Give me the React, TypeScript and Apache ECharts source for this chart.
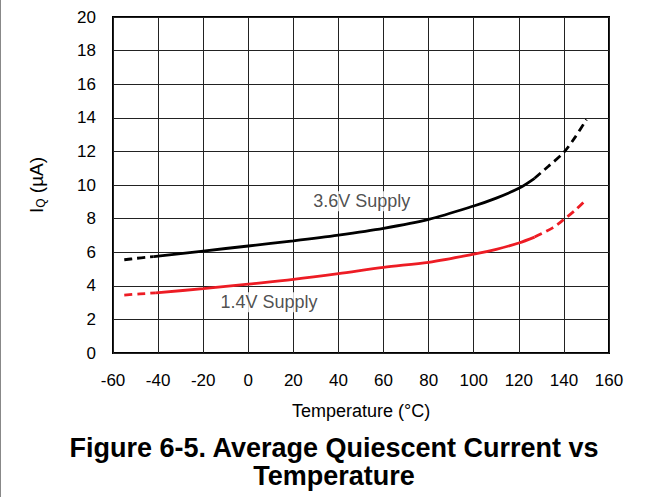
import React, { useEffect, useRef } from "react";
import * as echarts from "echarts";

const xTicks = [-60, -40, -20, 0, 20, 40, 60, 80, 100, 120, 140, 160];
const yTicks = [0, 2, 4, 6, 8, 10, 12, 14, 16, 18, 20];

// 3.6V supply curve (temperature °C, IQ µA)
const v36DashedLow: number[][] = [[-55, 5.55], [-50, 5.63], [-45, 5.7], [-42, 5.74]];
const v36Solid: number[][] = [[-42, 5.74], [-40, 5.77], [-20, 6.07], [0, 6.37], [20, 6.68], [40, 7.02], [60, 7.42], [80, 7.95], [100, 8.75], [110, 9.22], [120, 9.8], [127, 10.4]];
const v36DashedHigh: number[][] = [[127, 10.4], [133, 11.1], [140, 11.95], [145, 12.85], [150, 13.9]];

// 1.4V supply curve
const v14DashedLow: number[][] = [[-55, 3.45], [-48, 3.52], [-41, 3.58]];
const v14Solid: number[][] = [[-41, 3.58], [-20, 3.83], [0, 4.1], [20, 4.38], [40, 4.72], [60, 5.1], [80, 5.4], [100, 5.88], [110, 6.17], [120, 6.55], [127, 6.9]];
const v14DashedHigh: number[][] = [[127, 6.9], [135, 7.45], [140, 7.95], [145, 8.5], [150, 9.15]];

const labels = [
  { name: "3.6V Supply", value: [50.3, 9.03] },
  { name: "1.4V Supply", value: [9.2, 3.02] },
];

const FONT = "'Liberation Sans', Arial, Helvetica, sans-serif";

export default function App() {
  const ref = useRef<HTMLDivElement>(null);
  useEffect(() => {
    document.body.style.margin = "0";
    if (!ref.current) return;
    const chart = echarts.init(ref.current, null, { renderer: "svg" });
    const lineSeries = (data: number[][], color: string, dashed: boolean) => ({
      type: "line",
      data,
      smooth: 0.3,
      showSymbol: false,
      symbol: "none",
      lineStyle: { color, width: 2.8, type: dashed ? [8, 5] : "solid" },
      z: 5,
    });
    chart.setOption({
      animation: false,
      backgroundColor: "#fff",
      textStyle: { fontFamily: FONT },
      title: {
        text: "Figure 6-5. Average Quiescent Current vs\nTemperature",
        left: 328,
        top: 429,
        textAlign: "center",
        textStyle: { fontSize: 27, fontWeight: "bold", color: "#000", lineHeight: 28, fontFamily: FONT },
      },
      grid: { left: 112, right: 54, top: 17, bottom: 144, show: true, borderColor: "#000", borderWidth: 2, backgroundColor: "transparent" },
      xAxis: {
        type: "value",
        min: xTicks[0],
        max: xTicks[xTicks.length - 1],
        interval: 20,
        name: "Temperature (°C)",
        nameLocation: "middle",
        nameGap: 49,
        nameTextStyle: { fontSize: 18, color: "#000", fontFamily: FONT },
        axisLine: { show: false },
        axisTick: { show: false },
        axisLabel: { fontSize: 17, color: "#000", margin: 19, fontFamily: FONT },
        splitLine: { show: true, lineStyle: { color: "#222", width: 1 } },
      },
      yAxis: {
        type: "value",
        min: yTicks[0],
        max: yTicks[yTicks.length - 1],
        interval: 2,
        name: "{a|I}{b|Q}{a| (µA)}",
        nameLocation: "middle",
        nameRotate: 90,
        nameGap: 66,
        nameTextStyle: {
          color: "#000",
          rich: {
            a: { fontSize: 19, color: "#000", fontFamily: FONT },
            b: { fontSize: 12, color: "#000", fontFamily: FONT, padding: [10, 0, 0, 0] },
          },
        },
        axisLine: { show: false },
        axisTick: { show: false },
        axisLabel: { fontSize: 17, color: "#000", margin: 17, fontFamily: FONT },
        splitLine: { show: true, lineStyle: { color: "#222", width: 1 } },
      },
      series: [
        lineSeries(v36DashedLow, "#000", true),
        lineSeries(v36Solid, "#000", false),
        lineSeries(v36DashedHigh, "#000", true),
        lineSeries(v14DashedLow, "#ed1c24", true),
        lineSeries(v14Solid, "#ed1c24", false),
        lineSeries(v14DashedHigh, "#ed1c24", true),
        {
          type: "scatter",
          data: labels,
          symbolSize: 0,
          z: 6,
          label: {
            show: true,
            position: "inside",
            formatter: (p: any) => p.name,
            fontSize: 18,
            color: "#222",
            fontFamily: FONT,
            backgroundColor: "#fff",
            padding: [1, 3],
          },
        },
      ],
    });
    return () => chart.dispose();
  }, []);
  return (
    <div
      ref={ref}
      style={{ width: 663, height: 497, boxSizing: "border-box", borderLeft: "1px solid #888" }}
    />
  );
}
